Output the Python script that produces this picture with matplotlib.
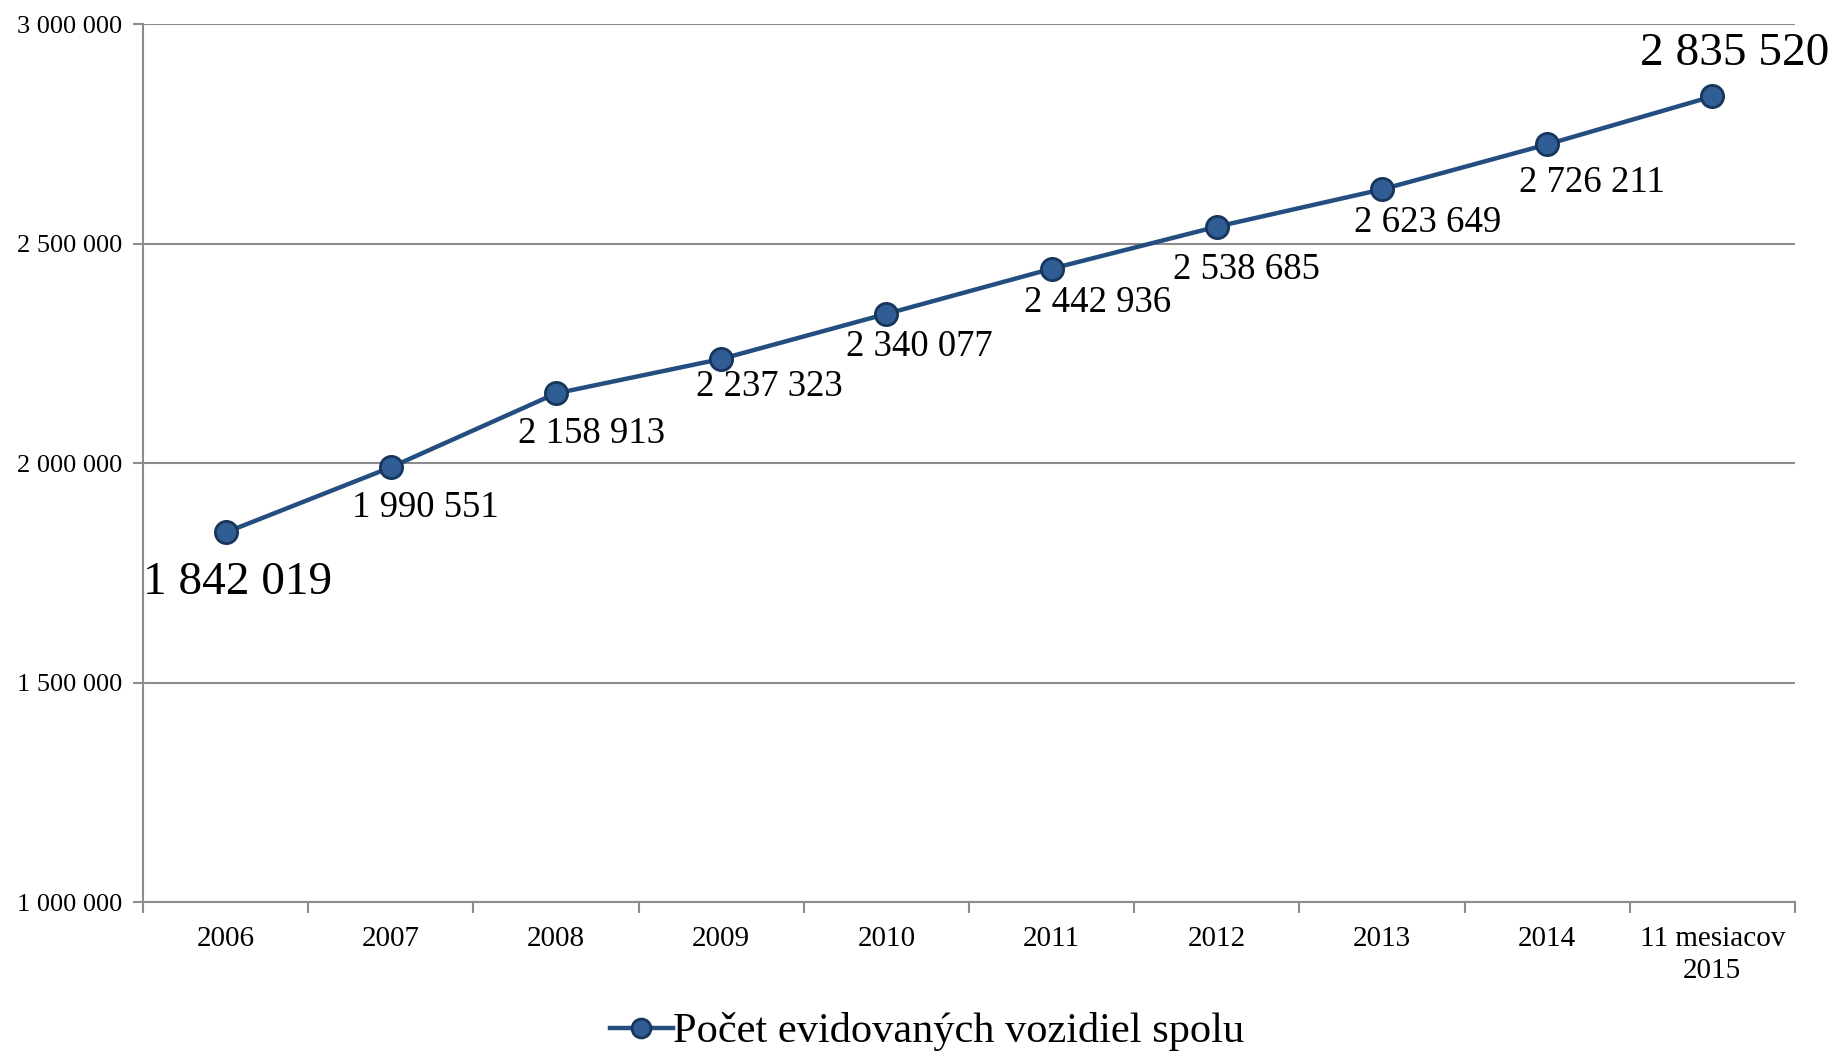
import numpy as np
import matplotlib.pyplot as plt
from matplotlib.ticker import FuncFormatter, MultipleLocator

years = ['2006', '2007', '2008', '2009', '2010', '2011', '2012', '2013', '2014',
         '11 mesiacov\n2015']
vehicles = [1842019, 1990551, 2158913, 2237323, 2340077, 2442936, 2538685,
            2623649, 2726211, 2835520]
series_name = 'Počet evidovaných vozidiel spolu'

# label offsets (pixels) and font sizes, per point
lab_dx = [12, 35, 35, 48, 33, 46, 30, 46, 45, 22]
lab_dy = [-50, -40, -40, -28, -33, -34, -43, -33, -38, 43]
lab_fs = [34, 26.5, 26.5, 26.5, 26.5, 26.5, 26.5, 26.5, 26.5, 34]

plt.rcParams['font.family'] = ['Liberation Serif', 'DejaVu Serif']

fig = plt.figure(figsize=(18.39, 10.54), dpi=100)
ax = fig.add_axes([0.0778, 0.1442, 0.976 - 0.0778, 0.977 - 0.1442])

x = np.arange(len(years))
line_col = '#254e80'
ax.plot(x, vehicles, color=line_col, lw=3.2, marker='o', markersize=16,
        markerfacecolor='#2f5d94', markeredgecolor='#17365c', markeredgewidth=2,
        label=series_name, zorder=3)

for i, v in enumerate(vehicles):
    s = '{:,}'.format(v).replace(',', ' ')
    ax.annotate(s, (x[i], v), xytext=(lab_dx[i], lab_dy[i]),
                textcoords='offset pixels', ha='center', va='center',
                fontsize=lab_fs[i], color='black', zorder=4)

ax.set_xlim(-0.5, len(years) - 0.5)
ax.set_ylim(1000000, 3000000)
ax.yaxis.set_major_locator(MultipleLocator(500000))
ax.yaxis.set_major_formatter(FuncFormatter(lambda v, p: '{:,}'.format(int(v)).replace(',', ' ')))
ax.grid(axis='y', color='#8c8c8c', lw=1.5)
ax.set_axisbelow(True)

ax.set_xticks(x)
ax.set_xticklabels(years, fontsize=21, linespacing=1.3)
ax.set_xticks(np.arange(-0.5, len(years)), minor=True)
ax.tick_params(axis='x', which='major', length=0, pad=17)
ax.tick_params(axis='x', which='minor', length=8, width=1.5, color='#8c8c8c')
ax.tick_params(axis='y', length=7, width=1.5, color='#8c8c8c', labelsize=19, pad=8)

for side in ['top', 'right']:
    ax.spines[side].set_visible(False)
for side in ['left', 'bottom']:
    ax.spines[side].set_color('#8c8c8c')
    ax.spines[side].set_linewidth(1.5)

fig.legend(loc='center', bbox_to_anchor=(0.504, 0.021), frameon=False,
           fontsize=30.5, handlelength=1.5, handletextpad=0.0, markerscale=0.85)

fig.savefig('out.png', dpi=100)
